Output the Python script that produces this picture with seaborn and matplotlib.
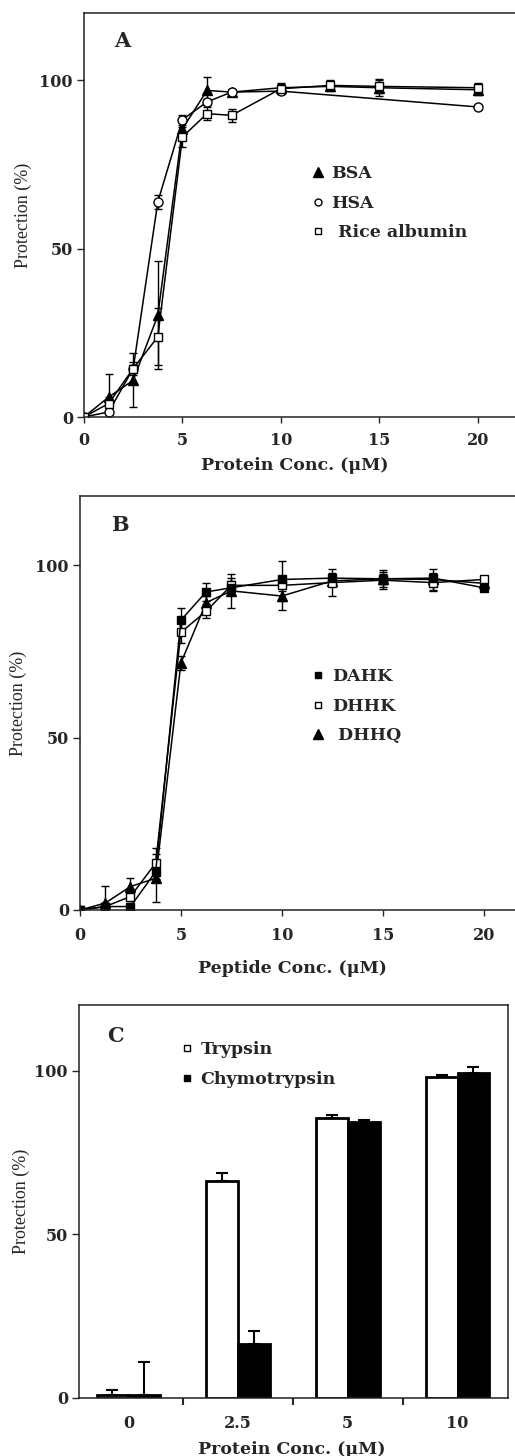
import numpy as np
import pandas as pd
import matplotlib
matplotlib.use("Agg")
import matplotlib.pyplot as plt
from matplotlib.lines import Line2D
import seaborn as sns

# Panel A: protein protection curves
a_conc = [0, 1.25, 2.5, 3.75, 5, 6.25, 7.5, 10, 12.5, 15, 20]
bsa = [0, 5.9, 10.9, 30.2, 85.6, 97.0, 96.5, 97.8, 98.2, 97.8, 97.2]
bsa_err = [0, 7, 8, 16, 3, 4, 1, 1.5, 1.5, 2.5, 1.5]
hsa_conc = [0, 1.25, 2.5, 3.75, 5, 6.25, 7.5, 10, 20]
hsa = [0, 1.5, 14.4, 63.9, 88.3, 93.6, 96.5, 96.8, 92.1]
hsa_err = [0, 0.5, 1, 2, 1.5, 1, 0.5, 1, 0.5]
rice = [0, 4.0, 14.4, 23.8, 83.2, 90.1, 89.6, 97.5, 98.5, 98.2, 97.8]
rice_err = [0, 2, 2, 8.5, 3, 2, 2, 1.5, 1.5, 2, 1.5]

# Panel B: peptides
b_conc = [0, 1.25, 2.5, 3.75, 5, 6.25, 7.5, 10, 12.5, 15, 17.5, 20]
dahk = [0, 1, 1, 11.1, 84.0, 92.2, 93.4, 95.8, 96.2, 96.0, 96.2, 93.4]
dahk_err = [0, 1, 1, 3, 3.5, 2.5, 2, 1, 1.5, 1.5, 1.5, 1]
dhhk = [0, 1, 3.9, 13.6, 80.5, 86.6, 94.1, 94.1, 94.9, 95.6, 94.9, 95.8]
dhhk_err = [0, 1, 1, 4.5, 3, 2, 2, 7, 4, 2.5, 2.5, 1]
dhhq = [0, 2, 6.8, 9.2, 71.6, 89.1, 92.5, 91.0, 95.4, 96.0, 95.8, 94.7]
dhhq_err = [0, 5, 2.5, 7, 2, 2, 5, 1.5, 1.5, 2.5, 3, 1]

# Panel C: bars
c_conc = ["0", "2.5", "5", "10"]
trypsin = [0.8, 66.4, 85.4, 98.0]
trypsin_err = [1.5, 2.2, 1.0, 0.6]
chymo = [0.8, 16.6, 84.2, 99.2]
chymo_err = [10.2, 3.9, 0.8, 2.0]

sns.set_style("ticks")
plt.rcParams['font.family'] = ['DejaVu Serif']

BOLD = dict(family='DejaVu Serif', weight='bold')
YLAB = dict(family='Liberation Serif', size=13)

W, H = 515, 1456
fig = plt.figure(figsize=(W / 100, H / 100), dpi=100)


def px_axes(left, top, right, bottom):
    return fig.add_axes([left / W, 1 - bottom / H, (right - left) / W, (bottom - top) / H])


def draw_series(ax, x, y, err, marker, face, ms):
    ax.errorbar(x, y, yerr=err, fmt='none', ecolor='black', elinewidth=1,
                capsize=3, capthick=1, zorder=1)
    sns.lineplot(x=x, y=y, ax=ax, color='black', linewidth=1.1, marker=marker,
                 markersize=ms, markerfacecolor=face, markeredgecolor='black',
                 markeredgewidth=1, errorbar=None, zorder=2)


def style_axes(ax, xlabel, letter, lx, ly, ylx):
    ax.set_ylim(0, 120)
    ax.set_yticks([0, 50, 100])
    ax.set_ylabel("Protection (%)", **YLAB)
    ax.yaxis.set_label_coords(ylx, 0.5)
    ax.set_xlabel(xlabel, fontsize=12.5, **BOLD)
    for lab in ax.get_xticklabels() + ax.get_yticklabels():
        lab.set_fontweight('bold')
        lab.set_fontsize(11.5)
    ax.tick_params(axis='y', length=5, width=1, pad=3)
    for s in ax.spines.values():
        s.set_linewidth(1.1)
        s.set_color('#222222')
    ax.text(lx, ly, letter, transform=ax.transAxes, fontsize=15, **BOLD)


def marker_legend(ax, items, x, y):
    handles = [Line2D([], [], linestyle='none', marker=m, markersize=ms,
                      markerfacecolor=f, markeredgecolor='black')
               for m, f, ms, _ in items]
    labels = [t for *_, t in items]
    ax.legend(handles, labels, loc='upper left', bbox_to_anchor=(x, y),
              frameon=False, borderpad=0, handlelength=0.8, handletextpad=0.4,
              labelspacing=0.72, prop=dict(family='DejaVu Serif', weight='bold', size=12.5))


# ---- A ----
ax = px_axes(84, 13, 520, 417)
draw_series(ax, a_conc, bsa, bsa_err, '^', 'black', 6.5)
draw_series(ax, hsa_conc, hsa, hsa_err, 'o', 'white', 6.5)
draw_series(ax, a_conc, rice, rice_err, 's', 'white', 5.5)
ax.set_xlim(0, 22.15)
ax.set_xticks([0, 5, 10, 15, 20])
ax.tick_params(axis='x', length=4, width=1, pad=7)
style_axes(ax, "Protein Conc. (\u03bcM)", "A", 0.07, 0.915, -0.12)
ax.xaxis.set_label_coords(0.483, -0.1)
marker_legend(ax, [('^', 'black', 7, 'BSA'), ('o', 'white', 5, 'HSA'),
                   ('s', 'white', 5, ' Rice albumin')], 0.50, 0.645)

# ---- B ----
ax = px_axes(80, 496, 520, 910)
draw_series(ax, b_conc, dhhq, dhhq_err, '^', 'black', 6.5)
draw_series(ax, b_conc, dhhk, dhhk_err, 's', 'white', 6)
draw_series(ax, b_conc, dahk, dahk_err, 's', 'black', 6)
ax.set_xlim(0, 21.8)
ax.set_xticks([0, 5, 10, 15, 20])
ax.tick_params(axis='x', length=4, width=1, pad=8)
style_axes(ax, "Peptide Conc. (\u03bcM)", "B", 0.07, 0.915, -0.12)
ax.xaxis.set_label_coords(0.483, -0.12)
marker_legend(ax, [('s', 'black', 5, 'DAHK'), ('s', 'white', 5, 'DHHK'),
                   ('^', 'black', 7, ' DHHQ')], 0.505, 0.605)

# ---- C ----
ax = px_axes(79, 1005, 508, 1398)
df_c = pd.DataFrame({
    'conc': c_conc * 2,
    'val': trypsin + chymo,
    'enzyme': ['Trypsin'] * 4 + ['Chymotrypsin'] * 4,
})
sns.barplot(data=df_c, x='conc', y='val', hue='enzyme', order=c_conc,
            hue_order=['Trypsin', 'Chymotrypsin'], palette=['white', 'black'],
            edgecolor='black', linewidth=2, width=0.58, errorbar=None, ax=ax,
            legend=False)
bars = ax.patches
errs = trypsin_err + chymo_err
vals = trypsin + chymo
for p, v, e in zip(bars, vals, errs):
    xc = p.get_x() + p.get_width() / 2
    ax.errorbar([xc], [v], yerr=[[0], [e]], fmt='none', ecolor='black',
                elinewidth=1.5, capsize=4, capthick=1.5, zorder=3)
ax.set_xlim(-0.45, 3.46)
ax.set_xticks(range(4))
ax.set_xticklabels(c_conc)
ax.set_xticks([0.5, 1.5, 2.5], minor=True)
ax.tick_params(axis='x', which='major', length=0, pad=12)
ax.tick_params(axis='x', which='minor', length=5, width=1.5)
style_axes(ax, "Protein Conc. (\u03bcM)", "C", 0.065, 0.905, -0.115)
ax.xaxis.set_label_coords(0.496, -0.11)
marker_legend(ax, [('s', 'white', 5, 'Trypsin'), ('s', 'black', 5, 'Chymotrypsin')],
              0.215, 0.93)

fig.savefig("out.png", dpi=100)
